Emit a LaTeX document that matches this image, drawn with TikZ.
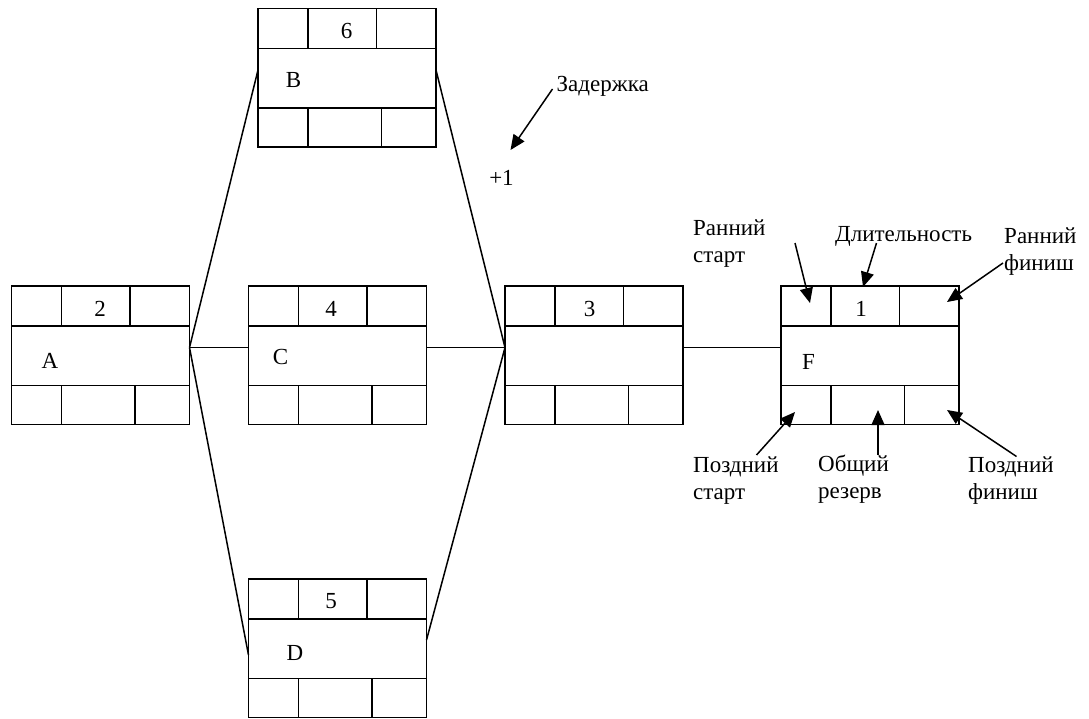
\documentclass[tikz,border=0pt]{standalone}
\usepackage{fontspec}
\setmainfont{Liberation Serif}
\usetikzlibrary{calc,arrows.meta}
\tikzset{
  box/.style={draw, line width=1.6pt, rectangle, minimum width=178pt, minimum height=138.5pt, anchor=north west, inner sep=0pt, outer sep=0pt},
  cell/.style={line width=1.6pt},
  conn/.style={line width=1.5pt},
  txt/.style={inner sep=0pt, font=\fontsize{23}{27}\selectfont},
  lbl/.style={inner sep=0pt, font=\fontsize{23}{27}\selectfont, align=left, anchor=west},
  annot/.style={line width=1.5pt, -{Triangle[length=15pt,width=13pt]}},
}
\newcommand\actbox[5]{%
  \node[box] (#1) at (#2,#3) {};
  \draw[cell] ($(#1.north west)+(0,40)$) -- ($(#1.north east)+(0,40)$);
  \draw[cell] ($(#1.north west)+(0,99.5)$) -- ($(#1.north east)+(0,99.5)$);
  \draw[cell] ($(#1.north west)+(50,0)$) -- ($(#1.north west)+(50,40)$);
  \draw[cell] ($(#1.north west)+(118.5,0)$) -- ($(#1.north west)+(118.5,40)$);
  \draw[cell] ($(#1.north west)+(50,99.5)$) -- ($(#1.south west)+(50,0)$);
  \draw[cell] ($(#1.north west)+(123.5,99.5)$) -- ($(#1.south west)+(123.5,0)$);
  \node[txt] (#1-dur) at ($(#1.north west)+(#4,22.5)$) {#5};
}
\newcommand\actlabel[4]{%
  \node[txt] (#1-lab) at ($(#1.north west)+(#2,#3)$) {#4};
}
\begin{document}
\begin{tikzpicture}[x=1pt,y=-1pt]
\useasboundingbox (0,0) rectangle (1089,718);
\fill[white] (0,0) rectangle (1089,718);

\actbox{A}{11.5}{286}{88.5}{2}
\actbox{B}{258}{8.5}{88.5}{6}
\actbox{C}{248.5}{286}{82.5}{4}
\actbox{D}{248.5}{579}{82.5}{5}
\actbox{E}{505}{286}{84.5}{3}
\actbox{F}{781}{286}{80}{1}

\actlabel{A}{38.5}{74.5}{A}
\actlabel{B}{35.5}{71.5}{B}
\actlabel{C}{32}{70.5}{C}
\actlabel{D}{46.5}{74}{D}
\actlabel{F}{27.5}{75.5}{F}

% connectors
\coordinate (Aout) at ($(A.north east)+(0,61.5)$);
\draw[conn] (Aout) -- ($(B.north west)+(0,61.5)$);
\draw[conn] (Aout) -- ($(C.north west)+(0,61.5)$);
\draw[conn] (Aout) -- ($(D.north west)+(0,76)$);
\coordinate (Ein) at ($(E.north west)+(0,61.5)$);
\draw[conn] ($(B.north east)+(0,61.5)$) -- (Ein);
\draw[conn] ($(C.north east)+(0,61.5)$) -- (Ein);
\draw[conn] ($(D.north east)+(0,61)$) -- (Ein);
\draw[conn] ($(E.north east)+(0,61.5)$) -- ($(F.north west)+(0,61.5)$);

% delay
\node[txt] (plus) at (501.5,178) {+1};
\node[lbl] (zad) at (556.5,86) {Задержка};
\coordinate (zs) at ($(zad.west)+(-4,3)$);
\draw[annot] (zs) -- (510.5,150);

% F annotations
\node[lbl] (rs) at (693,244) {Ранний\\старт};
\node[lbl] (dl) at (835,236) {Длительность};
\node[lbl] (rf) at (1004,252) {Ранний\\финиш};
\node[lbl] (ps) at (693,481) {Поздний\\старт};
\node[lbl] (or) at (818,479) {Общий\\резерв};
\node[lbl] (pf) at (968,481) {Поздний\\финиш};

\coordinate (rsT) at ($(F.north west)+(29,17)$);
\coordinate (dlT) at ($(F.north west)+(82,1)$);
\coordinate (rfT) at ($(F.north west)+(166,16)$);
\coordinate (psT) at ($(F.north west)+(14,126)$);
\coordinate (orT) at ($(F.north west)+(97,124)$);
\coordinate (pfT) at ($(F.north west)+(166,124)$);

\draw[annot] (795,243) -- (rsT);
\draw[annot] (876.5,243) -- (dlT);
\draw[annot] (1003,263) -- (rfT);
\draw[annot] (756.5,455) -- (psT);
\draw[annot] (878,455) -- (orT);
\draw[annot] (1016.5,456.5) -- (pfT);
\end{tikzpicture}
\end{document}
